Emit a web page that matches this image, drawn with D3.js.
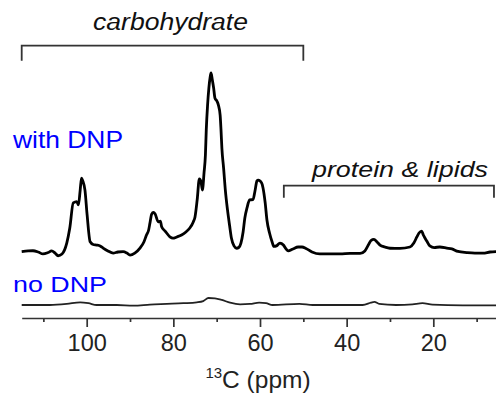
<!DOCTYPE html>
<html>
<head>
<meta charset="utf-8">
<script src="https://cdn.jsdelivr.net/npm/d3@7"></script>
<style>
  body { margin: 0; background: #fff; }
  svg { display: block; font-family: "Liberation Sans", Arial, sans-serif; }
</style>
</head>
<body>
<div id="chart"></div>
<script>
// 13C spectrum with DNP (ppm, relative intensity; main peak = 100)
const dnpPpm = [115, 113.5, 112.4, 111.2, 110.1, 108.9, 108.1, 107.3, 106.6, 105.7, 104.6, 103.9, 103.1, 102.3, 101.9, 101.5, 101.2, 100.9, 100.4, 99.9,
  99.2, 98.5, 97.7, 96.9, 96.2, 95.1, 93.9, 92.8, 91.6, 90.7, 90.0, 88.9, 87.7, 86.8, 86.2, 85.7, 85.4, 85.0, 84.6, 84.2,
  83.5, 83.0, 82.7, 81.9, 80.8, 80.1, 79.2, 78.1, 77.1, 76.2, 75.4, 75.0, 74.5, 74.0, 73.6, 73.3, 72.9, 72.6, 72.4, 72.1,
  71.8, 71.5, 71.3, 71.0, 70.7, 70.4, 69.9, 69.6, 69.2, 69.0, 68.8, 68.4, 68.0, 67.5, 67.0, 66.6, 66.0, 65.4, 64.9, 64.4,
  63.9, 63.5, 63.0, 62.4, 61.6, 61.2, 60.7, 60.4, 59.6, 59.3, 58.8, 58.4, 57.8, 57.2, 56.8, 56.2, 55.4, 54.6, 54.0, 53.5,
  52.4, 51.2, 50.3, 49.4, 48.0, 46.2, 43.8, 41.5, 39.2, 36.9, 35.8, 35.0, 34.4, 33.7, 33.0, 32.3, 31.2, 30.0, 27.7, 25.4,
  24.5, 23.8, 23.3, 22.7, 22.3, 21.9, 21.5, 20.8, 19.8, 18.5, 16.9, 15.7, 14.3, 12.3, 10.4, 8.5, 6.9, 5.0];
const dnpInt = [0.2, 0.6, 0.7, 0, -1.1, -0.3, 0.6, -0.6, -2.1, -1.1, 5.0, 13.4, 27.4, 28.1, 26.3, 34.6, 41.2, 39.7, 34.6, 20.7,
  5.7, 4.2, 3.9, 3.4, 2.2, 0.6, -0.6, 0, 0.2, -0.6, -1.7, -0.6, 2.2, 5.6, 9.5, 12.3, 16.2, 21.2, 22.1, 21.2,
  16.9, 17.3, 14.1, 11.7, 8.5, 7.7, 8.4, 9.5, 11.2, 13.4, 16.8, 19.6, 29.1, 40.8, 39.1, 34.6, 44.7, 54.2, 68.2, 82.1,
  91.6, 97.8, 100, 96.1, 91.6, 86.0, 84.1, 82.1, 76.5, 68.2, 58.1, 46.9, 34.6, 23.5, 14.5, 7.8, 3.4, 2.1, 2.5, 5.0,
  11.2, 19.0, 24.6, 29.1, 29.3, 33.5, 39.7, 40.2, 38.5, 35.8, 27.4, 17.9, 10.6, 5.6, 3.1, 3.4, 5.0, 3.9, 1.7, 0.6,
  1.7, 2.8, 2.8, 2.0, 0, -1.1, -1.1, -1.1, -0.8, -0.8, 0.6, 3.9, 6.4, 7.0, 5.6, 3.9, 2.8, 2.1, 2.0, 2.8,
  5.0, 8.4, 10.6, 11.7, 9.5, 7.7, 6.1, 3.4, 2.5, 2.8, 2.2, 1.7, 0.3, -0.3, -0.6, -0.6, 0, 0.2];

// 13C spectrum without DNP (same intensity units)
const noPpm = [115, 108.5, 104.6, 101.5, 99.6, 97.7, 93.1, 89.2, 85.4, 81.5, 77.7, 74.6, 73.1, 71.9, 70.4, 68.8, 66.9, 64.6, 62.3, 60.2,
  58.6, 57.1, 50.9, 47.8, 40.2, 36.3, 34.4, 33.6, 32.5, 28.6, 24.8, 22.5, 20.2, 13.2, 5.0];
const noInt = [0, 0, 0.6, 1.5, 1.0, 0, 0, -0.4, 0.2, 0.6, 1.0, 1.5, 2.2, 3.9, 3.7, 2.8, 1.3, 0.4, 0.6, 1.3,
  1.0, 0, 0.6, 0, 0, 0, 1.3, 1.8, 0.6, 0, 0.4, 1.0, 0.2, -0.2, -0.2];

const majorTicks = [100, 80, 60, 40, 20];
const minorTicks = [110, 90, 70, 50, 30, 10];

// region brackets: [label, fromPpm, toPpm]
const regions = [["carbohydrate", 115, 50], ["protein & lipids", 54.5, 6]];

const width = 496, height = 395;
const svg = d3.select("#chart").append("svg")
    .attr("width", width)
    .attr("height", height);

const x = d3.scaleLinear().domain([115, 5]).range([21.7, 498.3]);
const yDnp = d3.scaleLinear().domain([0, 100]).range([252, 73]);
const yNo = d3.scaleLinear().domain([0, 100]).range([305, 126]);

const line = (ys) => d3.line()
    .x(d => x(d[0]))
    .y(d => ys(d[1]))
    .curve(d3.curveMonotoneX);

svg.append("path")
    .datum(dnpPpm.map((p, i) => [p, dnpInt[i]]))
    .attr("fill", "none")
    .attr("stroke", "#000")
    .attr("stroke-width", 2.8)
    .attr("stroke-linejoin", "round")
    .attr("d", line(yDnp));

svg.append("path")
    .datum(noPpm.map((p, i) => [p, noInt[i]]))
    .attr("fill", "none")
    .attr("stroke", "#222")
    .attr("stroke-width", 1.8)
    .attr("d", line(yNo));

// x axis
const axisY = 318;
const gMinor = svg.append("g")
    .attr("transform", `translate(0,${axisY})`)
    .call(d3.axisBottom(x).tickValues(minorTicks).tickSize(4).tickFormat(""));
gMinor.select(".domain").remove();

const gAxis = svg.append("g")
    .attr("transform", `translate(0,${axisY})`)
    .call(d3.axisBottom(x).tickValues(majorTicks).tickSize(9).tickSizeOuter(0));

svg.selectAll(".domain, .tick line")
    .attr("stroke", "#333")
    .attr("stroke-width", 1.7);

gAxis.selectAll("text")
    .attr("y", 33)
    .attr("dy", null)
    .attr("fill", "#222")
    .style("font-size", "23.5px")
    .style("font-family", "'Liberation Sans', Arial, sans-serif");

const title = svg.append("text")
    .attr("x", 258)
    .attr("y", 388)
    .attr("text-anchor", "middle")
    .attr("fill", "#222")
    .style("font-size", "24.5px");
title.append("tspan").text("13").style("font-size", "15px").attr("dy", -10);
title.append("tspan").text("C (ppm)").attr("dy", 10);

// brackets
const brackets = [
  {r: regions[0], y: 45.7, drop: 15, tx: 170.5, ty: 30, size: 23, len: 155},
  {r: regions[1], y: 185.7, drop: 12, tx: 400, ty: 177, size: 22, len: 176}
];
brackets.forEach(b => {
  const x0 = x(b.r[1]), x1 = x(b.r[2]);
  svg.append("path")
      .attr("d", `M${x0},${b.y + b.drop}V${b.y}H${x1}V${b.y + b.drop}`)
      .attr("fill", "none")
      .attr("stroke", "#333")
      .attr("stroke-width", 1.8);
  svg.append("text")
      .attr("x", b.tx)
      .attr("y", b.ty)
      .attr("text-anchor", "middle")
      .attr("fill", "#111")
      .attr("font-style", "italic")
      .attr("textLength", b.len)
      .attr("lengthAdjust", "spacingAndGlyphs")
      .style("font-size", b.size + "px")
      .text(b.r[0]);
});

// trace labels
svg.append("text")
    .attr("x", 13).attr("y", 148)
    .attr("fill", "#0000ff")
    .attr("textLength", 110)
    .attr("lengthAdjust", "spacingAndGlyphs")
    .style("font-size", "24px")
    .text("with DNP");

svg.append("text")
    .attr("x", 13).attr("y", 292)
    .attr("fill", "#0000ff")
    .attr("textLength", 94)
    .attr("lengthAdjust", "spacingAndGlyphs")
    .style("font-size", "22px")
    .text("no DNP");
</script>
</body>
</html>
